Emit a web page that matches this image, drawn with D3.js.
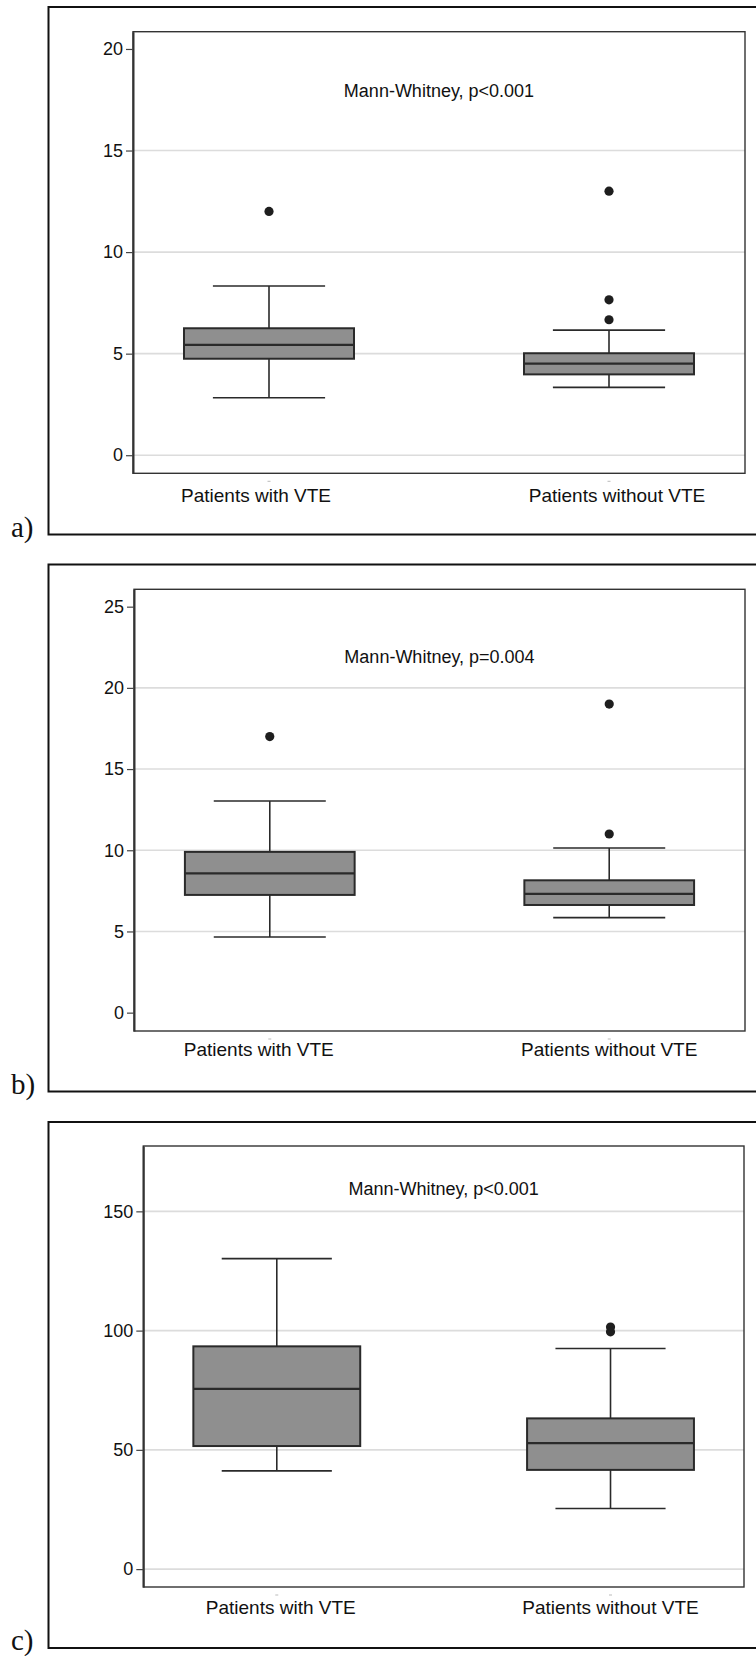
<!DOCTYPE html>
<html>
<head>
<meta charset="utf-8">
<script src="https://cdn.jsdelivr.net/npm/d3@7"></script>
<style>
  html, body { margin: 0; padding: 0; background: #fff; }
  svg { display: block; }
  text { font-family: Arial, "Liberation Sans", sans-serif; fill: #111; }
  .tag { font-family: "Times New Roman", "Liberation Serif", serif; }
</style>
</head>
<body>
<svg id="fig" width="756" height="1656"></svg>
<script>
// Groups compared in every panel
const groups = ["Patients with VTE", "Patients without VTE"];
const panelTags = ["a)", "b)", "c)"];
const testLabels = ["Mann-Whitney, p<0.001", "Mann-Whitney, p=0.004", "Mann-Whitney, p<0.001"];

// Panel a: five-number summaries and outliers per group
const lowA = [2.83, 3.34];
const q1A = [4.75, 3.98];
const medA = [5.43, 4.51];
const q3A = [6.25, 5.02];
const highA = [8.33, 6.16];
const outA = [[12.0], [13.0, 7.65, 6.67]];
const ticksA = [0, 5, 10, 15, 20];
const gridA = [0, 5, 10, 15];
const domainA = [-0.89, 20.85];

// Panel b
const lowB = [4.66, 5.85];
const q1B = [7.25, 6.63];
const medB = [8.58, 7.31];
const q3B = [9.9, 8.15];
const highB = [13.03, 10.14];
const outB = [[17.0], [19.0, 11.0]];
const ticksB = [0, 5, 10, 15, 20, 25];
const gridB = [5, 10, 15, 20];
const domainB = [-1.13, 26.07];

// Panel c
const lowC = [41.2, 25.4];
const q1C = [51.6, 41.6];
const medC = [75.6, 52.8];
const q3C = [93.4, 63.2];
const highC = [130.2, 92.5];
const outC = [[], [101.5, 99.5]];
const ticksC = [0, 50, 100, 150];
const gridC = [0, 50, 100, 150];
const domainC = [-7.5, 177.4];

const panels = [
  { low: lowA, q1: q1A, med: medA, q3: q3A, high: highA, out: outA, ticks: ticksA, grid: gridA, domain: domainA },
  { low: lowB, q1: q1B, med: medB, q3: q3B, high: highB, out: outB, ticks: ticksB, grid: gridB, domain: domainB },
  { low: lowC, q1: q1C, med: medC, q3: q3C, high: highC, out: outC, ticks: ticksC, grid: gridC, domain: domainC }
];

// Page layout of each panel (outer frame and inner plot area)
const layout = [
  { frameTop: 7,    frameBottom: 534.5,  left: 133,   top: 31.7,  right: 745, bottom: 473.3, titleDy: 59, labelDy: 29, labelShift: [-13, 8] },
  { frameTop: 564.5, frameBottom: 1091.5, left: 134,  top: 589.3, right: 745, bottom: 1031,  titleDy: 68, labelDy: 25, labelShift: [-11, 0] },
  { frameTop: 1122, frameBottom: 1648,   left: 143.3, top: 1146,  right: 744, bottom: 1587,  titleDy: 43, labelDy: 27, labelShift: [4, 0] }
];

const svg = d3.select("#fig");
const frameLeft = 48.5;
const ink = "#2a2a2a";

panels.forEach((p, i) => {
  const L = layout[i];
  const g = svg.append("g");

  // Outer figure frame (its right edge runs off the page)
  g.append("rect")
    .attr("x", frameLeft).attr("y", L.frameTop)
    .attr("width", 760 - frameLeft).attr("height", L.frameBottom - L.frameTop)
    .attr("fill", "none").attr("stroke", "#111").attr("stroke-width", 2);

  const y = d3.scaleLinear().domain(p.domain).range([L.bottom, L.top]);
  const x = d3.scaleBand().domain(groups).range([L.left, L.right])
    .paddingInner(0.5).paddingOuter(0.15);
  const bw = x.bandwidth();
  const cx = k => x(groups[k]) + bw / 2;

  // Horizontal reference lines
  g.append("g").selectAll("line").data(p.grid).join("line")
    .attr("x1", L.left).attr("x2", L.right)
    .attr("y1", d => y(d)).attr("y2", d => y(d))
    .attr("stroke", "#dcdcdc").attr("stroke-width", 1.6);

  // Plot area border
  g.append("rect")
    .attr("x", L.left).attr("y", L.top)
    .attr("width", L.right - L.left).attr("height", L.bottom - L.top)
    .attr("fill", "none").attr("stroke", "#333").attr("stroke-width", 1.4);

  // Value axis
  const ax = g.append("g")
    .attr("transform", `translate(${L.left},0)`)
    .call(d3.axisLeft(y).tickValues(p.ticks).tickSize(7).tickPadding(3).tickSizeOuter(0));
  ax.select(".domain").attr("stroke", "#333").attr("stroke-width", 2);
  ax.selectAll(".tick line").attr("stroke", "#444").attr("stroke-width", 1.2);
  ax.selectAll(".tick text")
    .attr("font-size", 18).attr("fill", "#111")
    .attr("font-family", "Arial, 'Liberation Sans', sans-serif");

  const idx = d3.range(groups.length);

  // Whiskers
  const wh = g.append("g").attr("stroke", ink).attr("stroke-width", 1.6);
  wh.selectAll(".up").data(idx).join("line")
    .attr("x1", cx).attr("x2", cx)
    .attr("y1", k => y(p.q3[k])).attr("y2", k => y(p.high[k]));
  wh.selectAll(".dn").data(idx).join("line").attr("class", "dn")
    .attr("x1", cx).attr("x2", cx)
    .attr("y1", k => y(p.q1[k])).attr("y2", k => y(p.low[k]));
  const capW = bw * 0.66;
  wh.selectAll(".capHi").data(idx).join("line").attr("class", "capHi")
    .attr("x1", k => cx(k) - capW / 2).attr("x2", k => cx(k) + capW / 2)
    .attr("y1", k => y(p.high[k])).attr("y2", k => y(p.high[k]));
  wh.selectAll(".capLo").data(idx).join("line").attr("class", "capLo")
    .attr("x1", k => cx(k) - capW / 2).attr("x2", k => cx(k) + capW / 2)
    .attr("y1", k => y(p.low[k])).attr("y2", k => y(p.low[k]));

  // Interquartile boxes
  g.append("g").selectAll("rect").data(idx).join("rect")
    .attr("x", k => x(groups[k])).attr("width", bw)
    .attr("y", k => y(p.q3[k])).attr("height", k => y(p.q1[k]) - y(p.q3[k]))
    .attr("fill", "#8f8f8f").attr("stroke", ink).attr("stroke-width", 2);

  // Medians
  g.append("g").selectAll("line").data(idx).join("line")
    .attr("x1", k => x(groups[k])).attr("x2", k => x(groups[k]) + bw)
    .attr("y1", k => y(p.med[k])).attr("y2", k => y(p.med[k]))
    .attr("stroke", ink).attr("stroke-width", 2.2);

  // Outliers
  const pts = idx.flatMap(k => p.out[k].map(v => ({ k, v })));
  g.append("g").selectAll("circle").data(pts).join("circle")
    .attr("cx", d => cx(d.k)).attr("cy", d => y(d.v)).attr("r", 4.6)
    .attr("fill", "#1e1e1e");

  // Faint category ticks below the plot
  g.append("g").selectAll("line").data(idx).join("line")
    .attr("x1", k => cx(k) - 1.5).attr("x2", k => cx(k) + 1.5)
    .attr("y1", L.bottom + 8).attr("y2", L.bottom + 8)
    .attr("stroke", "#bbb").attr("stroke-width", 1);

  // Category labels
  g.append("g").selectAll("text").data(idx).join("text")
    .attr("x", k => cx(k) + L.labelShift[k]).attr("y", L.bottom + L.labelDy)
    .attr("text-anchor", "middle").attr("font-size", 19)
    .text(k => groups[k]);

  // Test annotation
  g.append("text")
    .attr("x", (L.left + L.right) / 2).attr("y", L.top + L.titleDy + 6)
    .attr("text-anchor", "middle").attr("font-size", 18)
    .text(testLabels[i]);

  // Panel tag
  g.append("text").attr("class", "tag")
    .attr("x", 11).attr("y", L.frameBottom + 2)
    .attr("font-size", 29).attr("fill", "#000")
    .text(panelTags[i]);
});
</script>
</body>
</html>
